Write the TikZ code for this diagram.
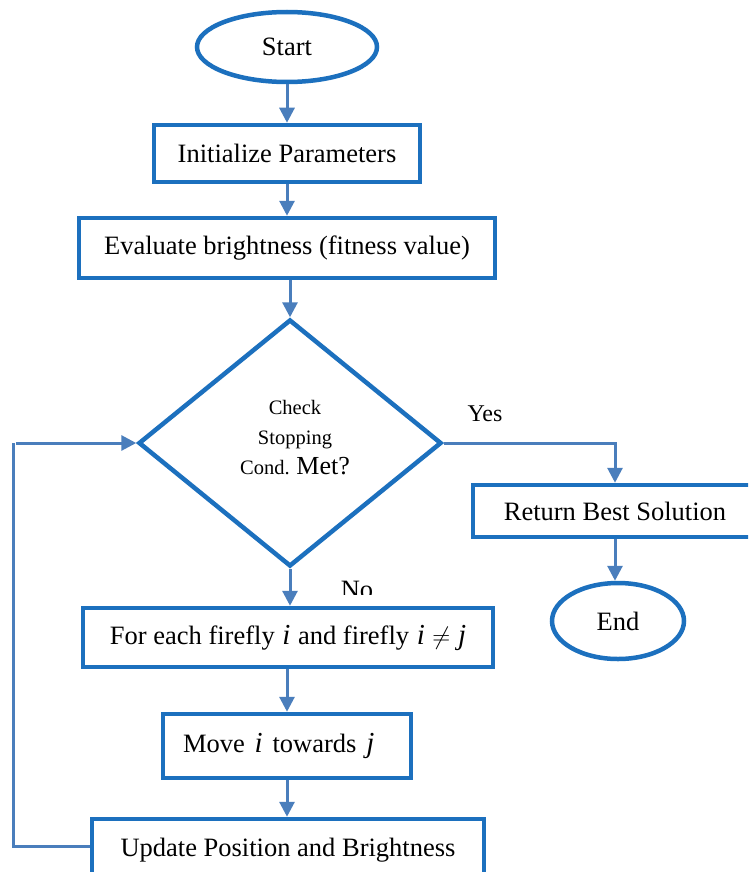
\documentclass[tikz,border=0pt]{standalone}
\usepackage{fontspec}
\setmainfont{Liberation Serif}
\usetikzlibrary{shapes.geometric,arrows.meta,calc}

\definecolor{edgeblue}{RGB}{28,112,190}
\definecolor{linkblue}{RGB}{74,126,188}

% italic variable names, set a touch larger than the text
\newcommand{\fvar}[1]{\hspace{1pt}{\fontsize{29}{30}\selectfont\itshape #1}\hspace{1pt}}

\tikzset{
  box/.style={draw=edgeblue, line width=4.5pt, rectangle, inner sep=0pt,
    font=\fontsize{26.5}{30}\selectfont},
  term/.style={draw=edgeblue, line width=4.5pt, ellipse, inner sep=0pt,
    font=\fontsize{26.5}{30}\selectfont},
  decide/.style={draw=edgeblue, line width=4.5pt, diamond, inner sep=0pt},
  conn/.style={draw=linkblue, line width=3pt,
    -{Triangle[width=15pt,length=15pt]}},
  plainline/.style={draw=linkblue, line width=3pt},
  lbl/.style={font=\fontsize{24}{28}\selectfont, inner sep=0pt},
}

\begin{document}
\begin{tikzpicture}[x=1pt,y=-1pt]
  \clip (0,0) rectangle (748,872);
  \fill[white] (0,0) rectangle (748,872);

  % main column
  \node[term, minimum width=180pt, minimum height=70pt] (start) at (287,47) {Start};
  \node[box, minimum width=266pt, minimum height=57pt] (init) at (287,153.5) {Initialize Parameters};
  \node[box, minimum width=416pt, minimum height=60pt] (eval) at (287,248) {Evaluate brightness (fitness value)};
  \node[decide, minimum width=303pt, minimum height=247pt] (dia) at (290,443) {};
  \node[font=\fontsize{20.5}{30}\selectfont, align=center, inner sep=0pt] (dtext) at (295,438)
    {Check\\Stopping\\Cond. {\fontsize{26}{30}\selectfont Met?}};
  \node[box, minimum width=410pt, minimum height=59pt] (each) at (288,637.5)
    {For each firefly \fvar{i} and firefly \fvar{i} $\neq$ \fvar{j}};
  \node[box, minimum width=248pt, minimum height=64pt, text width=208pt, align=left] (move) at (287,746)
    {Move \fvar{i} towards \fvar{j}};
  \node[box, minimum width=392pt, minimum height=62pt] (upd) at (288,850)
    {Update Position and Brightness};

  % right branch
  \node[box, minimum width=284pt, minimum height=52pt] (ret) at (615,511) {Return Best Solution};
  \node[term, minimum width=132pt, minimum height=76pt] (fin) at (618,621) {End};

  % labels
  \node[lbl] (yes) at (485,414) {Yes};
  \begin{scope}
    \clip (320,560) rectangle (400,594);
    \node[font=\fontsize{26.5}{30}\selectfont, inner sep=0pt] (no) at (357,590) {No};
  \end{scope}

  % connectors
  \draw[conn] (start.south) -- (start.south |- init.north);
  \draw[conn] (init.south) -- (init.south |- eval.north);
  \draw[conn] (eval.south -| dia.north) -- (dia.north);
  \draw[conn] (dia.south) -- (dia.south |- each.north);
  \draw[conn] (each.south -| move.north) -- (move.north);
  \draw[conn] (move.south) -- (move.south |- upd.north);
  \draw[conn] (dia.east) -| (ret.north);
  \draw[conn] (ret.south) -- (ret.south |- fin.north);

  % loop back to the decision
  \coordinate (lowcorner) at (13,846);
  \coordinate (highcorner) at (13,443);
  \draw[plainline] (upd.west |- lowcorner) -- (lowcorner) -- (highcorner);
  \draw[conn] ($(highcorner)+(3,0)$) -- (dia.west);
\end{tikzpicture}
\end{document}
